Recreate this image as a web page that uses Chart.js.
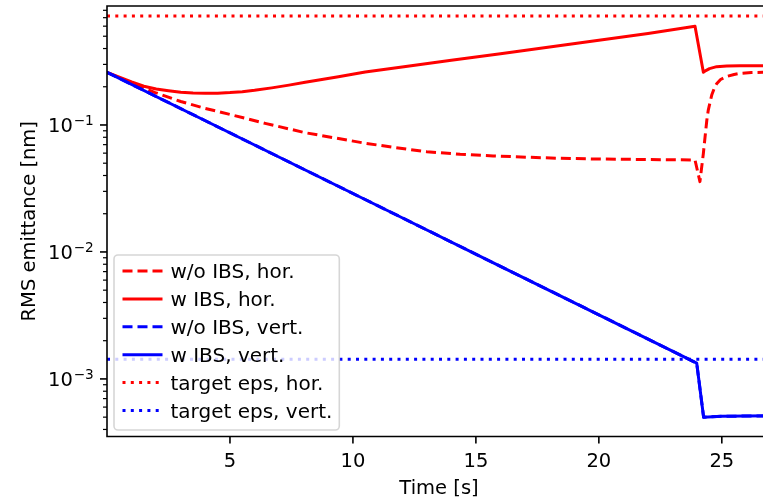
<!DOCTYPE html>
<html>
<head>
<meta charset="utf-8">
<script src="https://cdn.jsdelivr.net/npm/chart.js@4/dist/chart.umd.min.js"></script>
<style>
  html, body { margin: 0; padding: 0; background: #fff; overflow: hidden; }
  #wrap { width: 763px; height: 502px; overflow: hidden; position: relative; }
  canvas { display: block; }
</style>
</head>
<body>
<div id="wrap"><canvas id="c" width="780" height="502"></canvas></div>
<script>
// Emittance evolution: time in s, RMS emittance in nm
const tHorNoIbs   = [0, 1.0, 1.96, 3.0, 4.0, 5.0, 6.43, 8.06, 10.5, 11.65, 13.0, 14.36, 15.7, 17.07, 18.4, 19.8, 20.9, 22.5, 23.91, 24.11, 24.25, 24.32, 24.39, 24.45, 24.59, 24.7, 24.79, 24.95, 25.2, 25.5, 25.74, 26.2, 26.67, 27.0];
const epsHorNoIbs = [0.26, 0.214, 0.18, 0.153, 0.135, 0.121, 0.103, 0.0869, 0.0718, 0.0667, 0.0616, 0.0588, 0.0571, 0.0557, 0.0547, 0.054, 0.0537, 0.0533, 0.053, 0.0358, 0.0598, 0.081, 0.109, 0.131, 0.172, 0.196, 0.211, 0.228, 0.241, 0.25, 0.255, 0.259, 0.26, 0.26];

const tHorIbs   = [0, 0.5, 1.0, 1.5, 2.0, 2.5, 3.0, 3.5, 4.0, 4.5, 5.0, 5.5, 6.0, 6.7, 7.4, 8.06, 9.41, 10.5, 12.0, 14.0, 16.0, 18.0, 20.0, 22.0, 23.91, 24.25, 24.35, 24.5, 24.79, 25.2, 25.74, 27.0];
const epsHorIbs = [0.26, 0.238, 0.218, 0.202, 0.192, 0.186, 0.181, 0.1786, 0.178, 0.178, 0.18, 0.183, 0.1875, 0.196, 0.206, 0.217, 0.24, 0.261, 0.286, 0.323, 0.364, 0.411, 0.465, 0.525, 0.6, 0.26, 0.268, 0.278, 0.288, 0.291, 0.293, 0.293];

const tVertNoIbs   = [0, 4, 8, 12, 16, 20, 23.98, 24.26, 25.0, 27.0];
const epsVertNoIbs = [0.26, 0.108, 0.0448, 0.0186, 0.0077, 0.0032, 0.00133, 0.000499, 0.000508, 0.000512];

const tVertIbs   = [0, 4, 8, 12, 16, 20, 23.98, 24.26, 25.0, 27.0];
const epsVertIbs = [0.26, 0.108, 0.0448, 0.0186, 0.0077, 0.0032, 0.00133, 0.000499, 0.000508, 0.000512];

const targetEpsHor  = 0.72;
const targetEpsVert = 0.00143;

const seriesLabels = ['w/o IBS, hor.', 'w IBS, hor.', 'w/o IBS, vert.', 'w IBS, vert.', 'target eps, hor.', 'target eps, vert.'];
const xTickValues = [5, 10, 15, 20, 25];
const yMajorTickValues = [1e-3, 1e-2, 1e-1];

const X_MIN = 0, X_MAX = 27;
const Y_MIN = 3.52e-4, Y_MAX = 0.865;

const FONT = '"DejaVu Sans", sans-serif';
const FS = 19.5;
const LEGEND_FS = 20;
const RED = '#ff0000', BLUE = '#0000ff';
const DASH = [10, 5], DOT = [3, 5.3];

const pts = (xs, ys) => xs.map((x, i) => ({ x, y: ys[i] }));
const hline = v => [{ x: X_MIN, y: v }, { x: X_MAX, y: v }];

const series = [
  { data: pts(tHorNoIbs, epsHorNoIbs),   color: RED,  dash: DASH },
  { data: pts(tHorIbs, epsHorIbs),       color: RED,  dash: [] },
  { data: pts(tVertNoIbs, epsVertNoIbs), color: BLUE, dash: DASH },
  { data: pts(tVertIbs, epsVertIbs),     color: BLUE, dash: [] },
  { data: hline(targetEpsHor),           color: RED,  dash: DOT },
  { data: hline(targetEpsVert),          color: BLUE, dash: DOT }
];

const datasets = series.map((s, i) => ({
  label: seriesLabels[i],
  data: s.data,
  borderColor: s.color,
  backgroundColor: s.color,
  borderDash: s.dash,
  borderWidth: 3,
  borderJoinStyle: 'round',
  borderCapStyle: 'butt',
  pointRadius: 0,
  tension: 0,
  fill: false,
  clip: 0,
  order: series.length - i   // later series drawn on top
}));

// Spines, ticks and tick labels in the classic scientific style
const axesPlugin = {
  id: 'axesFrame',
  afterDatasetsDraw(chart) {
    const { ctx, chartArea: a, scales: { x, y } } = chart;
    ctx.save();
    ctx.strokeStyle = '#000';
    ctx.fillStyle = '#000';

    // x ticks
    ctx.lineWidth = 1.6;
    ctx.font = `${FS}px ${FONT}`;
    ctx.textAlign = 'center';
    ctx.textBaseline = 'alphabetic';
    xTickValues.forEach(v => {
      const px = x.getPixelForValue(v);
      ctx.beginPath();
      ctx.moveTo(px, a.bottom);
      ctx.lineTo(px, a.bottom + 7);
      ctx.stroke();
      ctx.fillText(String(v), px, a.bottom + 30);
    });

    // y minor ticks
    ctx.lineWidth = 1.2;
    for (let e = -4; e <= 0; e++) {
      for (let k = 2; k <= 9; k++) {
        const v = k * Math.pow(10, e);
        if (v < Y_MIN || v > Y_MAX) continue;
        const py = y.getPixelForValue(v);
        ctx.beginPath();
        ctx.moveTo(a.left, py);
        ctx.lineTo(a.left - 4, py);
        ctx.stroke();
      }
    }

    // y major ticks with power-of-ten labels
    ctx.lineWidth = 1.6;
    yMajorTickValues.forEach(v => {
      const py = y.getPixelForValue(v);
      ctx.beginPath();
      ctx.moveTo(a.left, py);
      ctx.lineTo(a.left - 7, py);
      ctx.stroke();
      const exp = Math.round(Math.log10(v));
      const sup = (exp < 0 ? '\u2212' : '') + Math.abs(exp);
      ctx.textAlign = 'left';
      ctx.font = `${FS * 0.7}px ${FONT}`;
      const wSup = ctx.measureText(sup).width;
      const xSup = 93.8 - wSup;
      ctx.fillText(sup, xSup, py + 0.3);
      ctx.font = `${FS}px ${FONT}`;
      const wBase = ctx.measureText('10').width;
      ctx.fillText('10', xSup - wBase - 0.8, py + 7.5);
    });

    // spines
    ctx.lineWidth = 1.6;
    ctx.beginPath();
    ctx.moveTo(a.left, a.top);
    ctx.lineTo(a.right, a.top);
    ctx.lineTo(a.right, a.bottom);
    ctx.lineTo(a.left, a.bottom);
    ctx.closePath();
    ctx.stroke();

    // axis titles
    ctx.font = `${FS}px ${FONT}`;
    ctx.textAlign = 'center';
    ctx.fillText('Time [s]', (a.left + a.right) / 2, 494);
    ctx.save();
    ctx.translate(34.5, (a.top + a.bottom) / 2);
    ctx.rotate(-Math.PI / 2);
    ctx.fillText('RMS emittance [nm]', 0, 0);
    ctx.restore();

    ctx.restore();
  }
};

// Framed legend in the lower-left corner of the plot
const legendPlugin = {
  id: 'cornerLegend',
  afterDraw(chart) {
    const { ctx } = chart;
    const box = { left: 114, top: 255, right: 339.3, bottom: 430, r: 4 };
    ctx.save();
    ctx.beginPath();
    ctx.roundRect(box.left, box.top, box.right - box.left, box.bottom - box.top, box.r);
    ctx.fillStyle = 'rgba(255,255,255,0.8)';
    ctx.fill();
    ctx.lineWidth = 1.6;
    ctx.strokeStyle = 'rgba(204,204,204,0.8)';
    ctx.stroke();

    ctx.font = `${LEGEND_FS}px ${FONT}`;
    ctx.textAlign = 'left';
    ctx.textBaseline = 'alphabetic';
    chart.data.datasets.forEach((ds, i) => {
      const yRow = 271 + 27.9 * i;
      ctx.beginPath();
      ctx.setLineDash(ds.borderDash || []);
      ctx.lineDashOffset = 0;
      ctx.lineCap = 'butt';
      ctx.lineWidth = ds.borderWidth;
      ctx.strokeStyle = ds.borderColor;
      ctx.moveTo(122.5, yRow);
      ctx.lineTo(162.5, yRow);
      ctx.stroke();
      ctx.setLineDash([]);
      ctx.fillStyle = '#000';
      ctx.fillText(ds.label, 170.5, yRow + 7);
    });
    ctx.restore();
  }
};

Chart.defaults.font.family = FONT;

new Chart(document.getElementById('c'), {
  type: 'line',
  data: { datasets },
  options: {
    responsive: false,
    animation: false,
    devicePixelRatio: 1,
    events: [],
    layout: { padding: { left: 0, top: 6, right: 9, bottom: 0 } },
    plugins: { legend: { display: false }, tooltip: { enabled: false } },
    scales: {
      x: {
        type: 'linear', min: X_MIN, max: X_MAX,
        grid: { display: false }, border: { display: false },
        ticks: { display: false },
        afterFit(s) { s.height = 65.5; }
      },
      y: {
        type: 'logarithmic', min: Y_MIN, max: Y_MAX,
        grid: { display: false }, border: { display: false },
        ticks: { display: false },
        afterFit(s) { s.width = 107; }
      }
    }
  },
  plugins: [axesPlugin, legendPlugin]
});
</script>
</body>
</html>
